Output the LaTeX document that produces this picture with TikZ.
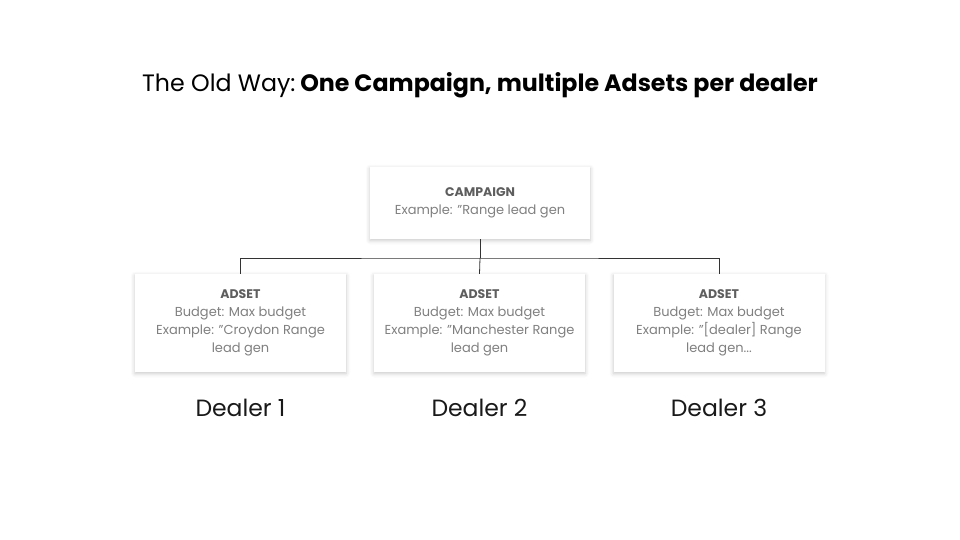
\documentclass[tikz,border=0pt]{standalone}
\usepackage{fontspec}
\setmainfont{Poppins}
\usetikzlibrary{shadows.blur}
\definecolor{headgray}{HTML}{5E5E5E}
\definecolor{txtgray}{HTML}{808080}
\definecolor{linegray}{HTML}{333333}
\tikzset{
  card/.style={fill=white, minimum width=211pt, minimum height=98pt, inner sep=0pt,
    align=center, text=txtgray, font=\fontsize{13}{18}\selectfont,
    blur shadow={shadow xshift=0pt, shadow yshift=-1.5pt, shadow blur radius=4pt, shadow opacity=22}},
  conn/.style={draw=linegray, line width=0.8pt},
  dealer/.style={font=\fontsize{23.5}{26}\selectfont, text=black!90}
}
\newcommand{\hd}[1]{{\bfseries\color{headgray}\fontsize{12.5}{18}\selectfont #1}}
\begin{document}
\begin{tikzpicture}[x=1pt,y=-1pt]
\useasboundingbox (0,0) rectangle (960,540);
\node[font=\fontsize{23.7}{27}\selectfont, anchor=center] (title) at (480,85)
  {The Old Way:\hspace{0.2em}\textbf{One Campaign, multiple Adsets per dealer}};
\node[card, minimum width=220pt, minimum height=72pt] (camp) at (480,203)
  {\hd{CAMPAIGN}\\Example: "Range lead gen};
\node[card] (a1) at (240.5,323) {\hd{ADSET}\\Budget: Max budget\\Example: "Croydon Range\\lead gen};
\node[card] (a2) at (479.5,323) {\hd{ADSET}\\Budget: Max budget\\Example: "Manchester Range\\lead gen};
\node[card] (a3) at (719,323) {\hd{ADSET}\\Budget: Max budget\\Example: "[dealer] Range\\lead gen...};
\coordinate (hub) at (480,258);
\draw[conn] (camp.south) -- (hub);
\draw[conn] (a1.north) |- (hub) -| (a3.north);
\draw[conn] (hub) -- (a2.north);
\node[dealer] (d1) at (240.5,408) {Dealer 1};
\node[dealer] (d2) at (479.5,408) {Dealer 2};
\node[dealer] (d3) at (719,408) {Dealer 3};
\end{tikzpicture}
\end{document}
